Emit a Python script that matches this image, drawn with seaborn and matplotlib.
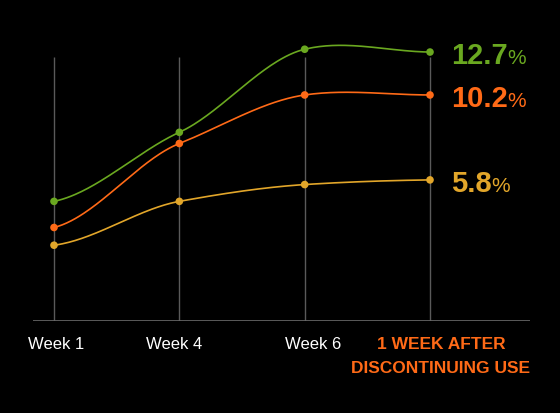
import numpy as np
import pandas as pd
import matplotlib.pyplot as plt
import matplotlib.transforms as mtransforms
import seaborn as sns

# values (percent)
weeks = ["Week 1", "Week 4", "Week 6", "1 WEEK AFTER\nDISCONTINUING USE"]
green_vals = [4.6, 8.3, 12.75, 12.6]
orange_vals = [3.2, 7.7, 10.3, 10.3]
yellow_vals = [2.25, 4.6, 5.5, 5.75]
end_labels = ["12.7", "10.2", "5.8"]

colors = ["#6aa820", "#ff6a17", "#e2a62a"]

sns.set_theme(style="dark")
plt.rcParams["font.family"] = ["Liberation Sans", "DejaVu Sans"]


def smooth(vals, tension=0.75, n=60):
    # cardinal curve through the points
    p = np.asarray(vals, dtype=float)
    m = np.zeros_like(p)
    m[1:-1] = (p[2:] - p[:-2]) / 2
    m[0] = (p[1] - p[0]) / 2
    m[-1] = (p[-1] - p[-2]) / 2
    m = m * tension
    xs, ys = [], []
    for i in range(len(p) - 1):
        t = np.linspace(0, 1, n)
        h00 = 2 * t**3 - 3 * t**2 + 1
        h10 = t**3 - 2 * t**2 + t
        h01 = -2 * t**3 + 3 * t**2
        h11 = t**3 - t**2
        xs.append(i + t)
        ys.append(h00 * p[i] + h10 * m[i] + h01 * p[i + 1] + h11 * m[i + 1])
    return np.concatenate(xs), np.concatenate(ys)


rows = []
for name, vals in zip(["green", "orange", "yellow"], [green_vals, orange_vals, yellow_vals]):
    for i, v in enumerate(vals):
        rows.append({"series": name, "x": i, "value": v})
df = pd.DataFrame(rows)

fig = plt.figure(figsize=(5.6, 4.14), dpi=100, facecolor="black")
ax = fig.add_axes([33 / 560, 1 - 322 / 414, 497 / 560, 302 / 414])
ax.set_facecolor("black")

# vertical guides and baseline
ax.vlines(range(len(weeks)), -1.81, 12.35, color="#5a5a5a", lw=1, zorder=1)
ax.axhline(-1.81, color="#6a6a6a", lw=1.2, zorder=1)

for (name, vals), c in zip([("green", green_vals), ("orange", orange_vals), ("yellow", yellow_vals)], colors):
    sx, sy = smooth(vals)
    ax.plot(sx, sy, color=c, lw=1.2, zorder=2)

sns.scatterplot(data=df, x="x", y="value", hue="series",
                palette=dict(zip(["green", "orange", "yellow"], colors)),
                s=30, edgecolor="none", legend=False, zorder=3, ax=ax)

# end labels
for vals, lab, c in zip([green_vals, orange_vals, yellow_vals], end_labels, colors):
    t = ax.annotate(lab, xy=(3, vals[-1]), xytext=(15.5, -8), textcoords="offset points",
                    color=c, fontsize=21, fontweight="bold", va="baseline", ha="left")
    ax.annotate("%", xy=(1, 0), xycoords=t, xytext=(-0.5, 1.5), textcoords="offset points",
                color=c, fontsize=15, va="bottom", ha="left")

ax.set_xlim(-21 / 125.33, 3 + 100 / 125.33)
ax.set_ylim(-1.81, 14.37)
ax.set_xticks(range(len(weeks)))
ax.set_xticklabels(weeks, fontsize=12)
ax.set_yticks([])
ax.set_xlabel("")
ax.set_ylabel("")
ax.tick_params(axis="x", length=0, pad=11)
ax.grid(False)
for s in ax.spines.values():
    s.set_visible(False)

shifts = [2.5, -5, 8, 11]
for lbl, dx in zip(ax.get_xticklabels(), shifts):
    lbl.set_color("white")
    lbl.set_transform(lbl.get_transform() + mtransforms.ScaledTranslation(dx / 100, 0, fig.dpi_scale_trans))
last = ax.get_xticklabels()[-1]
last.set_color("#ff6a17")
last.set_fontweight("bold")
last.set_fontsize(12.5)
last.set_linespacing(1.75)

fig.savefig("out.png", dpi=100, facecolor="black")
